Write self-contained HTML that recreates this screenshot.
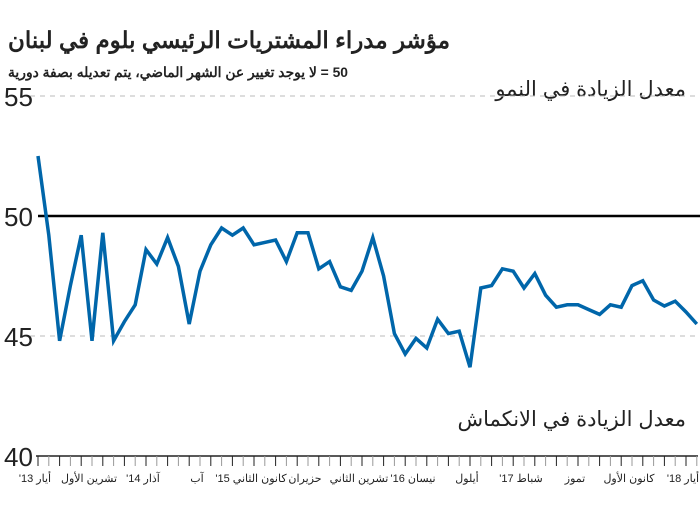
<!DOCTYPE html>
<html><head><meta charset="utf-8"><style>
body{margin:0;background:#fff;}
svg text{font-family:"Liberation Sans","Noto Sans CJK SC",sans-serif;}
</style></head><body>
<svg width="700" height="512" viewBox="0 0 700 512">
<text x="450" y="48" text-anchor="start" font-size="23" font-weight="bold" fill="#222" direction="rtl" textLength="442" lengthAdjust="spacingAndGlyphs">مؤشر مدراء المشتريات الرئيسي بلوم في لبنان</text>
<text x="348" y="77" text-anchor="start" font-size="14" font-weight="bold" fill="#222" direction="rtl" textLength="340" lengthAdjust="spacingAndGlyphs">50 = لا يوجد تغيير عن الشهر الماضي، يتم تعديله بصفة دورية</text>
<text x="686" y="96" text-anchor="start" font-size="21" fill="#222" direction="rtl">معدل الزيادة في النمو</text>
<text x="686" y="426" text-anchor="start" font-size="21" fill="#222" direction="rtl">معدل الزيادة في الانكماش</text>
<g id="grid"></g><g id="yl"></g><g id="xt"></g>
<path id="line" fill="none" stroke="#0066aa" stroke-width="3.5" stroke-linejoin="miter"></path>
</svg>
<script>
const values=[52.5,49.2,44.8,47.1,49.2,44.8,49.3,44.8,45.6,46.3,48.6,48.0,49.1,47.9,45.5,47.7,48.8,49.5,49.2,49.5,48.8,48.9,49.0,48.1,49.3,49.3,47.8,48.1,47.05,46.9,47.7,49.1,47.5,45.1,44.25,44.9,44.5,45.7,45.1,45.2,43.7,47.0,47.1,47.8,47.7,47.0,47.6,46.7,46.2,46.3,46.3,46.1,45.9,46.3,46.2,47.1,47.3,46.5,46.25,46.45,46.0,45.5];
const yTicks=[55,50,45,40];
const xLabels=["أيار 13'","تشرين الأول","آذار 14'","آب","كانون الثاني 15'","حزيران","تشرين الثاني","نيسان 16'","أيلول","شباط 17'","تموز","كانون الأول","أيار 18'"];
const xLabelIdx=[0,5,10,15,20,25,30,35,40,45,50,55,60];
const NS="http://www.w3.org/2000/svg";
const x=i=>38+i*10.8;
const y=v=>216-(v-50)*24;
function mk(t,a,p){const e=document.createElementNS(NS,t);for(const k in a)e.setAttribute(k,a[k]);p.appendChild(e);return e;}
const grid=document.getElementById('grid'),yl=document.getElementById('yl'),xt=document.getElementById('xt');
yTicks.forEach(v=>{
  if(v===45||v===55){const g=mk('line',{x1:30,x2:700,y1:y(v),y2:y(v),stroke:'#bbb','stroke-dasharray':'5,5','stroke-width':1},grid);
  
  }
  const t=mk('text',{x:4,y:y(v)+10,'font-size':26,fill:'#222'},yl);t.textContent=v;
  
  
});
const ref=mk('line',{x1:38,x2:700,y1:y(50),y2:y(50),stroke:'#000','stroke-width':2.5},grid);


const base=mk('line',{x1:36,x2:698,y1:y(40),y2:y(40),stroke:'#222','stroke-width':1.5},xt);


for(let i=0;i<=61;i++){const tk=mk('line',{x1:x(i),x2:x(i),y1:y(40),y2:y(40)+10,stroke:i%2?'#999':'#222','stroke-width':1},xt);

}
xLabels.forEach((l,k)=>{const t=mk('text',{x:x(xLabelIdx[k])-3,y:482,'font-size':11,'text-anchor':'middle',fill:'#222',direction:'rtl'},xt);t.textContent=l;

});
document.getElementById('line').setAttribute('d',values.map((v,i)=>(i?'L':'M')+x(i)+','+y(v)).join(''));
</script>
</body></html>
